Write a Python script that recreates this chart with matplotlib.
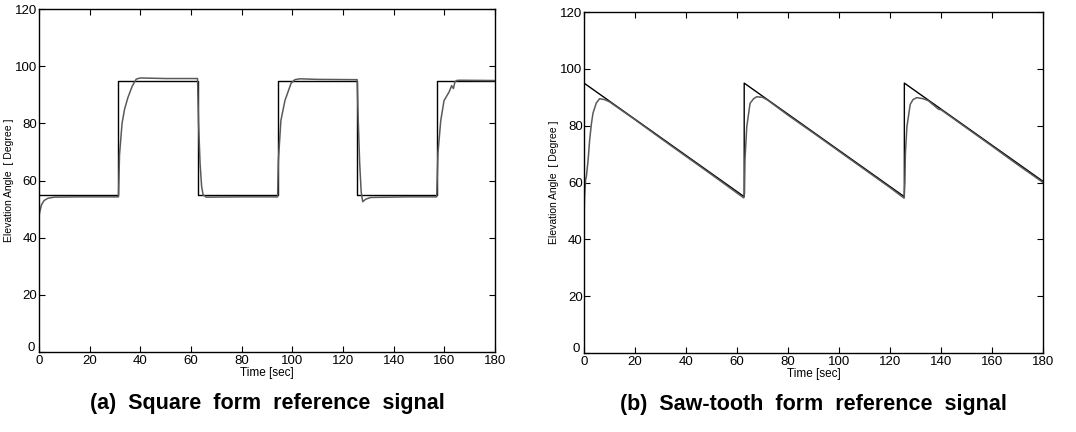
from matplotlib import pyplot as plt
from matplotlib.transforms import ScaledTranslation

plt.rcParams['font.family'] = ['Liberation Sans', 'DejaVu Sans']

# (a) square wave reference and measured response
sq_ref_t = [0, 31.4, 31.4, 62.8, 62.8, 94.2, 94.2, 125.6, 125.6, 157.0, 157.0, 180]
sq_ref_v = [55, 55, 95, 95, 55, 55, 95, 95, 55, 55, 95, 95]

sq_out_t = [0, 0.3, 1, 2, 3.5, 6, 15,
            31.4, 31.8, 32.8, 33.8, 35.1, 36.8, 38.4, 40, 50,
            62.6, 63.0, 63.6, 64.2, 64.8, 66, 80,
            94.2, 94.5, 95.5, 97.1, 99.5, 101, 103, 110,
            125.6, 126.0, 126.6, 127.2, 127.8, 129, 131, 145,
            157.0, 157.5, 158.6, 159.9, 161.9, 162.9, 163.6, 164.2, 164.8, 166, 180]
sq_out_v = [47.5, 49, 51.5, 53, 53.8, 54.2, 54.3,
            54.3, 69, 80, 85, 89, 93, 95.5, 95.9, 95.7,
            95.7, 80, 66, 58, 55, 54.2, 54.3,
            54.3, 67, 81, 88, 94, 95.3, 95.6, 95.4,
            95.3, 82, 66, 56, 52.6, 53.5, 54.1, 54.3,
            54.3, 69.6, 81, 88, 91, 93.2, 92.2, 94.5, 95, 95.1, 95.0]

# (b) saw-tooth reference and measured response
saw_ref_t = [0, 62.8, 62.8, 125.6, 125.6, 180]
saw_ref_v = [95, 55, 95, 55, 95, 60.4]

saw_out_t = [0, 0.2, 0.6, 0.9, 1.6, 2.2, 2.9, 3.5, 4.8, 6.1, 8, 10, 20, 30, 40, 50,
             62.6, 62.9, 63.1, 63.8, 65.1, 66.5, 67.7, 70, 72, 80, 90, 100, 110, 120,
             125.5, 125.8, 126.0, 126.6, 127.9, 129, 130.5, 133, 135, 139, 140, 150, 160, 170, 180]
saw_out_v = [47.5, 55, 61, 62, 68, 75, 80.8, 84.4, 88, 89.5, 89.2, 88.4, 82.1, 75.6, 69.2, 62.8,
             54.6, 56, 68, 79.6, 87.9, 89.5, 90.2, 90, 89.0, 83.7, 77.4, 71.0, 64.6, 58.2,
             54.5, 60, 70, 79.6, 87.5, 89.2, 89.9, 89.5, 88.8, 85.8, 85.6, 79.2, 72.8, 66.3, 60.0]

x_ticks = list(range(0, 181, 20))
y_ticks = list(range(0, 121, 20))

fig = plt.figure(figsize=(10.76, 4.32), dpi=100)
ax1 = fig.add_axes([0.0362, 0.185, 0.4238, 0.794])
ax2 = fig.add_axes([0.5428, 0.183, 0.4266, 0.789])

panels = [
    (ax1, sq_ref_t, sq_ref_v, sq_out_t, sq_out_v, '(a)  Square  form  reference  signal'),
    (ax2, saw_ref_t, saw_ref_v, saw_out_t, saw_out_v, '(b)  Saw-tooth  form  reference  signal'),
]

for ax, rt, rv, ot, ov, caption in panels:
    ax.plot(rt, rv, color='black', linewidth=1.0)
    ax.plot(ot, ov, color='#5a5a5a', linewidth=1.1)
    ax.set_xlim(0, 180)
    ax.set_ylim(0, 120)
    ax.set_xticks(x_ticks)
    ax.set_yticks(y_ticks)
    ax.tick_params(direction='in', top=True, right=True, length=4, width=0.8,
                   labelsize=9.5, pad=1)
    ax.tick_params(axis='x', pad=2)
    for s in ax.spines.values():
        s.set_linewidth(1.0)
    # lift the y "0" a little so it clears the x "0" at the corner
    zero_lbl = ax.get_yticklabels()[0]
    zero_lbl.set_transform(zero_lbl.get_transform() +
                           ScaledTranslation(-2 / 72, 4 / 72, fig.dpi_scale_trans))
    ax.set_xlabel('Time [sec]', fontsize=8.5, labelpad=0)
    ax.set_ylabel('Elevation Angle  [ Degree ]', fontsize=7.5, labelpad=1)
    ax.text(0.5, -0.15, caption, transform=ax.transAxes, ha='center', va='center',
            fontsize=15.5, fontweight='bold')

fig.savefig('out.png', dpi=100)
